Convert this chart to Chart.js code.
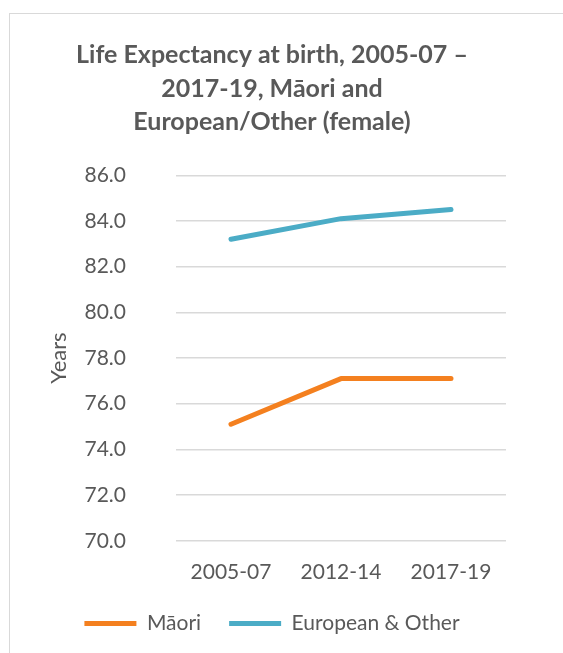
<!DOCTYPE html>
<html>
<head>
<meta charset="utf-8">
<script src="https://cdn.jsdelivr.net/npm/chart.js@4.4.0/dist/chart.umd.min.js"></script>
<style>
  html, body { margin: 0; padding: 0; background: #fff; overflow: hidden; }
  #frame {
    position: absolute; left: 9px; top: 13px;
    width: 620px; height: 700px;
    border: 1px solid #d9d9d9;
  }
  #wrap { position: absolute; left: 0; top: 0; width: 553px; height: 639px; }
</style>
</head>
<body>
<div id="frame">
  <div id="wrap"><canvas id="myChart"></canvas></div>
</div>
<script>
const categories = ['2005-07', '2012-14', '2017-19'];
const maoriValues = [75.1, 77.1, 77.1];
const europeanValues = [83.2, 84.1, 84.5];
const titleLines = ['Life Expectancy at birth, 2005-07 \u2013', '2017-19, M\u0101ori and', 'European/Other (female)'];

const textColor = '#595959';
const fontFamily = 'Lato, "Open Sans", sans-serif';

document.addEventListener('DOMContentLoaded', () => {
    const ctx = document.getElementById('myChart').getContext('2d');

    new Chart(ctx, {
        type: 'line',
        data: {
            labels: categories,
            datasets: [
                {
                    label: 'M\u0101ori',
                    data: maoriValues,
                    borderColor: '#f4801f',
                    backgroundColor: '#f4801f',
                    borderWidth: 5,
                    borderCapStyle: 'round',
                    borderJoinStyle: 'round',
                    pointRadius: 0,
                    fill: false
                },
                {
                    label: 'European & Other',
                    data: europeanValues,
                    borderColor: '#4bacc6',
                    backgroundColor: '#4bacc6',
                    borderWidth: 5,
                    borderCapStyle: 'round',
                    borderJoinStyle: 'round',
                    pointRadius: 0,
                    fill: false
                }
            ]
        },
        options: {
            responsive: true,
            maintainAspectRatio: false,
            animation: false,
            layout: { padding: { left: 0, right: 29, top: 0, bottom: 9 } },
            plugins: {
                title: {
                    display: true,
                    text: titleLines,
                    color: textColor,
                    font: { family: fontFamily, size: 25, weight: 'bold', lineHeight: 1.35 },
                    padding: { top: 24, bottom: 36 }
                },
                legend: {
                    display: true,
                    position: 'bottom',
                    labels: {
                        color: textColor,
                        font: { family: fontFamily, size: 21 },
                        usePointStyle: true,
                        pointStyle: 'line',
                        pointStyleWidth: 52,
                        padding: 28
                    }
                },
                tooltip: { enabled: false }
            },
            scales: {
                x: {
                    offset: true,
                    // shorter box so the legend can keep wide item spacing
                    afterFit: (scale) => { scale.height -= 11; },
                    grid: { display: false },
                    border: { display: false },
                    ticks: {
                        color: textColor,
                        font: { family: fontFamily, size: 21 },
                        padding: 11,
                        maxRotation: 0
                    }
                },
                y: {
                    min: 70,
                    max: 86,
                    afterFit: (scale) => { scale.width = 166; },
                    grid: { color: '#d9d9d9', lineWidth: 1.5, drawTicks: false },
                    border: { display: false },
                    title: {
                        display: true,
                        text: 'Years',
                        color: textColor,
                        font: { family: fontFamily, size: 22 },
                        padding: { top: 36, bottom: 0 }
                    },
                    ticks: {
                        stepSize: 2,
                        color: textColor,
                        font: { family: fontFamily, size: 21 },
                        padding: 50,
                        callback: (v) => v.toFixed(1)
                    }
                },
                // empty right-hand spacer so the plot ends where the reference does
                spacer: {
                    type: 'linear',
                    position: 'right',
                    afterFit: (scale) => { scale.width = 28; },
                    grid: { display: false },
                    border: { display: false },
                    ticks: { display: false }
                }
            }
        }
    });
});
</script>
</body>
</html>
